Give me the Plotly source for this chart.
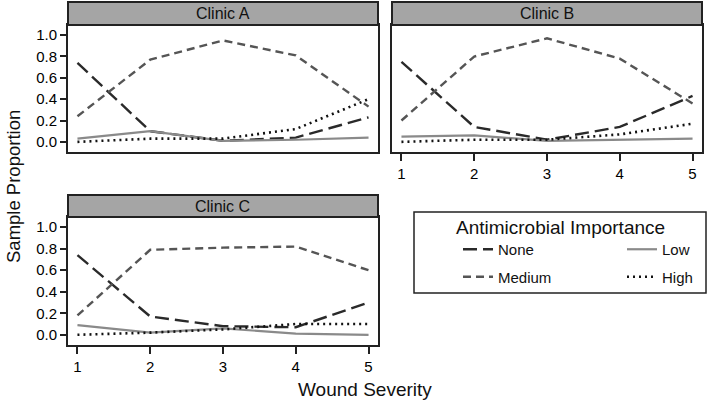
import plotly.graph_objects as go

severity = [1, 2, 3, 4, 5]
clinics = ["Clinic A", "Clinic B", "Clinic C"]
series_names = ["None", "Low", "Medium", "High"]

clinic_a = {
    "None":   [0.74, 0.10, 0.01, 0.04, 0.23],
    "Low":    [0.03, 0.10, 0.01, 0.02, 0.04],
    "Medium": [0.24, 0.77, 0.95, 0.81, 0.33],
    "High":   [0.00, 0.03, 0.03, 0.12, 0.40],
}
clinic_b = {
    "None":   [0.75, 0.14, 0.02, 0.14, 0.43],
    "Low":    [0.05, 0.06, 0.01, 0.02, 0.03],
    "Medium": [0.20, 0.80, 0.97, 0.78, 0.36],
    "High":   [0.00, 0.02, 0.02, 0.07, 0.17],
}
clinic_c = {
    "None":   [0.74, 0.17, 0.08, 0.07, 0.30],
    "Low":    [0.09, 0.02, 0.06, 0.01, 0.00],
    "Medium": [0.18, 0.79, 0.81, 0.82, 0.60],
    "High":   [0.00, 0.02, 0.05, 0.10, 0.10],
}
y_ticks = [0.0, 0.2, 0.4, 0.6, 0.8, 1.0]
y_ticklabels = ["0.0", "0.2", "0.4", "0.6", "0.8", "1.0"]
legend_title = "Antimicrobial Importance"

styles = {
    "None":   dict(color="#2a2a2a", dash="14px,6px", width=2.4),
    "Low":    dict(color="#8a8a8a", dash="solid", width=2.2),
    "Medium": dict(color="#555555", dash="8px,5px", width=2.4),
    "High":   dict(color="#111111", dash="2px,4px", width=2.6),
}
legend_of = {"None": "legend", "Medium": "legend", "Low": "legend2", "High": "legend2"}

W, H = 709, 402
def px_x(a, b):
    return [a / W, b / W]
def px_y(top, bottom):
    return [(H - bottom) / H, (H - top) / H]

panels = [
    dict(name=clinics[0], data=clinic_a, xd=px_x(68, 378), yd=px_y(25, 152), head=(2, 25), xlabels=False),
    dict(name=clinics[1], data=clinic_b, xd=px_x(392, 702), yd=px_y(25, 152), head=(2, 25), xlabels=True),
    dict(name=clinics[2], data=clinic_c, xd=px_x(68, 378), yd=px_y(217, 345), head=(195, 217), xlabels=True),
]

FONT = "Liberation Sans, Arial, sans-serif"
fig = go.Figure()
layout = dict(
    width=W, height=H, margin=dict(l=0, r=0, t=0, b=0, autoexpand=False),
    paper_bgcolor="white", plot_bgcolor="white",
    font=dict(family=FONT, color="#111"),
    shapes=[], annotations=[],
)

for i, p in enumerate(panels):
    suffix = "" if i == 0 else str(i + 1)
    for s in series_names:
        fig.add_trace(go.Scatter(
            x=severity, y=p["data"][s], mode="lines", name=s,
            line=styles[s], showlegend=(i == 0), legend=legend_of[s],
            legendgroup=s, xaxis="x" + suffix, yaxis="y" + suffix,
        ))
    layout["xaxis" + suffix] = dict(
        domain=p["xd"], anchor="y" + suffix, range=[0.87, 5.13],
        tickvals=severity, showticklabels=p["xlabels"],
        ticks="outside" if p["xlabels"] else "", ticklen=7, tickwidth=1.5, tickcolor="#222",
        showgrid=False, zeroline=False, showline=True, mirror=True,
        linecolor="#222", linewidth=2, tickfont=dict(size=15, color="#000"),
    )
    layout["yaxis" + suffix] = dict(
        domain=p["yd"], anchor="x" + suffix, range=[-0.095, 1.095],
        tickvals=y_ticks, ticktext=y_ticklabels,
        showticklabels=(i != 1), ticks="outside" if i != 1 else "",
        ticklen=6, tickwidth=1.5, tickcolor="#222",
        showgrid=False, zeroline=False, showline=True, mirror=True,
        linecolor="#222", linewidth=2, tickfont=dict(size=15, color="#000"),
    )
    ht, hb = p["head"]
    hy = px_y(ht, hb)
    layout["shapes"].append(dict(
        type="rect", xref="paper", yref="paper",
        x0=p["xd"][0], x1=p["xd"][1], y0=hy[0], y1=hy[1],
        fillcolor="#a5a5a5", line=dict(color="#222", width=2), layer="above",
    ))
    layout["annotations"].append(dict(
        text=p["name"], xref="paper", yref="paper",
        x=(p["xd"][0] + p["xd"][1]) / 2, y=(hy[0] + hy[1]) / 2,
        xanchor="center", yanchor="middle",
        showarrow=False, font=dict(size=16, color="#111"),
    ))

layout["annotations"].append(dict(
    text="Sample Proportion", xref="paper", yref="paper", x=13 / W, y=(H - 187) / H,
    xanchor="center", yanchor="middle",
    textangle=-90, showarrow=False, font=dict(size=18.5, color="#111"),
))
layout["annotations"].append(dict(
    text="Wound Severity", xref="paper", yref="paper", x=365 / W, y=(H - 389) / H,
    xanchor="center", yanchor="middle",
    showarrow=False, font=dict(size=19, color="#111"),
))

# legend frame and title
ly = px_y(212, 293)
layout["shapes"].append(dict(
    type="rect", xref="paper", yref="paper", x0=414 / W, x1=706 / W, y0=ly[0], y1=ly[1],
    fillcolor="rgba(0,0,0,0)", line=dict(color="#222", width=1.5),
))
layout["annotations"].append(dict(
    text=legend_title, xref="paper", yref="paper", x=560 / W, y=(H - 227) / H,
    xanchor="center", yanchor="middle", showarrow=False, font=dict(size=19, color="#111"),
))

leg_common = dict(
    orientation="v", yanchor="top", xanchor="left", bgcolor="rgba(0,0,0,0)",
    borderwidth=0, font=dict(size=15, color="#111"), tracegroupgap=5,
)
layout["legend"] = dict(x=458 / W, y=(H - 233) / H, **leg_common)
layout["legend2"] = dict(x=622 / W, y=(H - 233) / H, **leg_common)

fig.update_layout(**layout)
fig.write_html("out.html", config={"displayModeBar": False},
               post_script="document.body.style.margin='0';")
